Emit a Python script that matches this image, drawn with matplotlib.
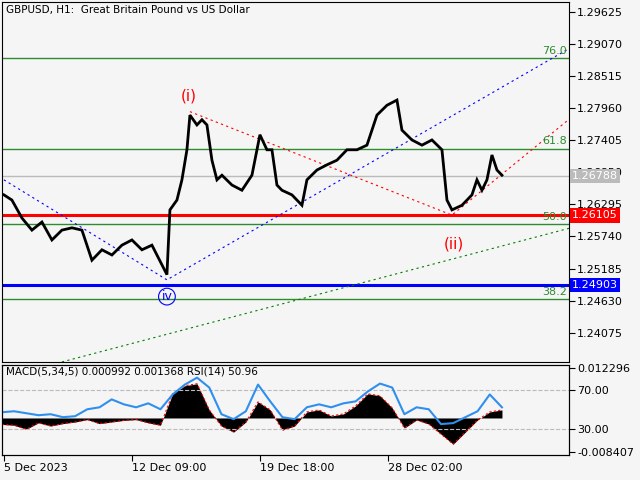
import numpy as np
import matplotlib.pyplot as plt

# price path (x in chart pixel units, close price)
px = [2, 10, 20, 30, 40, 50, 60, 70, 80, 90, 100, 110, 120, 130, 140, 150, 160, 165, 168, 175,
      180, 185, 188, 195, 200, 205, 210, 215, 220, 230, 240, 250, 258, 265, 270, 275, 280, 290,
      300, 305, 315, 325, 335, 345, 355, 365, 375, 385, 395, 400, 410, 420, 430, 440, 445, 450,
      460, 470, 475, 480, 485, 490, 495, 500]
price = [1.2646, 1.2637, 1.2606, 1.2585, 1.2599, 1.2568, 1.2585, 1.2589, 1.2585, 1.2533, 1.2551,
         1.2542, 1.2559, 1.2568, 1.2551, 1.2559, 1.2525, 1.2508, 1.2620, 1.2637, 1.2672, 1.2724,
         1.2784, 1.2767, 1.2776, 1.2767, 1.2706, 1.2672, 1.2680, 1.2663, 1.2654, 1.2680, 1.2750,
         1.2724, 1.2724, 1.2663, 1.2654, 1.2646, 1.2628, 1.2672, 1.2689, 1.2698, 1.2706, 1.2724,
         1.2724, 1.2732, 1.2784, 1.2801, 1.2810, 1.2758, 1.2741, 1.2732, 1.2741, 1.2724, 1.2637,
         1.2620, 1.2628, 1.2646, 1.2672, 1.2654, 1.2672, 1.2715, 1.2689, 1.2680]

yticks = [1.29625, 1.29070, 1.28515, 1.27960, 1.27405, 1.26850, 1.26295, 1.25740, 1.25185,
          1.24630, 1.24075]
fibo = {'76.0': 1.2883, '61.8': 1.2726, '50.0': 1.2595, '38.2': 1.2466}
red_level, blue_level, last_price = 1.26105, 1.24903, 1.26788

macd = [-0.0016, -0.0018, -0.0028, -0.0012, -0.0020, -0.0014, -0.0010, -0.0004, -0.0014, -0.0010,
        -0.0006, -0.0004, -0.0012, -0.0018, 0.0060, 0.0080, 0.0085, 0.0020, -0.0020, -0.0035,
        -0.0010, 0.0040, 0.0020, -0.0030, -0.0020, 0.0015, 0.0020, 0.0005, 0.0010, 0.0030,
        0.0060, 0.0055, 0.0025, -0.0025, -0.0005, -0.0015, -0.0040, -0.0065, -0.0035, -0.0005,
        0.0015, 0.0020]
rsi = [47, 48, 46, 44, 45, 42, 43, 50, 52, 60, 55, 52, 56, 50, 65, 75, 82, 72, 45, 40,
       48, 75, 58, 42, 40, 52, 55, 52, 56, 58, 68, 76, 72, 45, 52, 50, 35, 36, 42, 48,
       65, 52]

xdates = [2, 130, 258, 386]
xlabels = ['5 Dec 2023', '12 Dec 09:00', '19 Dec 18:00', '28 Dec 02:00']

bg = '#f5f5f5'
fig = plt.figure(figsize=(6.4, 4.8), dpi=100, facecolor=bg)
ax = fig.add_axes([0.003, 0.246, 0.886, 0.75], facecolor=bg)
ax.set_xlim(0, 567)
ax.set_ylim(1.2357, 1.29798)

for name, lv in fibo.items():
    ax.axhline(lv, color='#2e8b2e', lw=1)
    ax.text(565, lv + 0.0004, name, color='#2e8b2e', fontsize=8, ha='right', va='bottom')
ax.axhline(last_price, color='#bbbbbb', lw=1)
ax.axhline(red_level, color='red', lw=2.2)
ax.axhline(blue_level, color='blue', lw=2.2)

ax.plot([2, 165, 565], [1.2672, 1.2499, 1.2897], color='blue', ls=(0, (2, 3)), lw=0.8)
ax.plot([188, 450, 640], [1.2790, 1.2611, 1.2880], color='red', ls=(0, (2, 3)), lw=0.8)
ax.plot([60, 569], [1.2357, 1.2589], color='green', ls=(0, (2, 3)), lw=0.8)

ax.plot(px, price, color='black', lw=2, solid_joinstyle='miter')

ax.text(187, 1.2810, '(i)', color='red', fontsize=11, ha='center')
ax.text(452, 1.2574, '(ii)', color='red', fontsize=11, ha='center', va='top')
ax.text(165, 1.2470, 'iv', color='blue', fontsize=9, ha='center', va='center',
        bbox=dict(boxstyle='circle,pad=0.15', fc='none', ec='blue', lw=0.8))
ax.text(4, 1.2965, 'GBPUSD, H1:  Great Britain Pound vs US Dollar', fontsize=7.5, va='center')

ax.yaxis.tick_right()
ax.set_yticks(yticks)
ax.set_yticklabels([f'{v:.5f}' for v in yticks], fontsize=8)
ax.set_xticks([])
ax.tick_params(axis='y', length=4, pad=2)
for lv, fc, tc in [(last_price, '#bbbbbb', 'white'), (red_level, 'red', 'white'),
                   (blue_level, 'blue', 'white')]:
    ax.text(1.005, lv, f'{lv:.5f}', transform=ax.get_yaxis_transform(), fontsize=8,
            color=tc, va='center', ha='left', zorder=10,
            bbox=dict(boxstyle='square,pad=0.2', fc=fc, ec='none'))

# indicator panel
bx = fig.add_axes([0.003, 0.052, 0.886, 0.188], facecolor=bg)
bx.set_xlim(0, 567)
bx.set_ylim(-0.0092, 0.0132)
mx = np.linspace(0, 500, len(macd))
bx.fill_between(mx, 0, macd, color='black', lw=0)
bx.plot(mx, macd, color='red', ls=(0, (2, 2)), lw=0.8)
bx.set_xticks(xdates)
bx.set_xticklabels(xlabels, fontsize=8, ha='left')
bx.tick_params(axis='x', length=4, pad=2)

rx = bx.twinx()
rx.set_ylim(3.7, 95)
rx.axhline(70, color='#bbbbbb', ls='--', lw=0.8)
rx.axhline(30, color='#bbbbbb', ls='--', lw=0.8)
rx.plot(np.linspace(0, 500, len(rsi)), rsi, color='#2f8fef', lw=1.5)
rx.set_yticks([70, 30])
rx.set_yticklabels(['70.00', '30.00'], fontsize=8)
rx.tick_params(axis='y', length=4, pad=2)
rx.text(4, 88, 'MACD(5,34,5) 0.000992 0.001368 RSI(14) 50.96', fontsize=7.5, va='center')

bx.yaxis.tick_right()
bx.set_yticks([0.012296, -0.008407])
bx.set_yticklabels(['0.012296', '-0.008407'], fontsize=8)
bx.tick_params(axis='y', length=4, pad=2, left=False, labelleft=False,
               right=True, labelright=True)

fig.savefig('out.png', dpi=100, facecolor=bg)
